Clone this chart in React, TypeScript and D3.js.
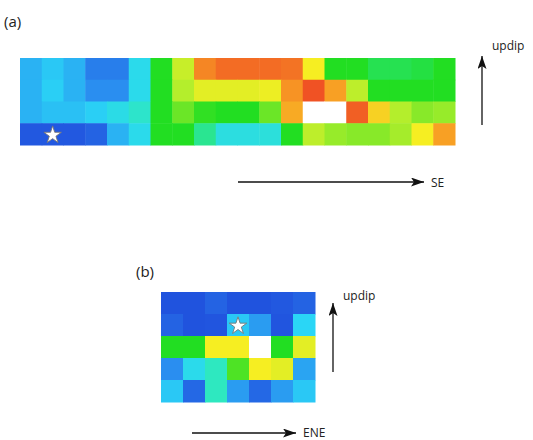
import { useEffect, useRef } from "react";
import * as d3 from "d3";

// slip values (0-1), rows listed top (updip) to bottom; 1 = peak shown white
const panelA: number[][] = [
  [0.3, 0.33, 0.3, 0.22, 0.22, 0.37, 0.55, 0.67, 0.84, 0.88, 0.88, 0.88, 0.87, 0.72, 0.55, 0.55, 0.52, 0.52, 0.53, 0.55],
  [0.3, 0.34, 0.3, 0.25, 0.25, 0.37, 0.55, 0.65, 0.7, 0.7, 0.7, 0.71, 0.82, 0.92, 0.8, 0.66, 0.55, 0.55, 0.55, 0.55],
  [0.3, 0.32, 0.32, 0.34, 0.38, 0.43, 0.55, 0.6, 0.56, 0.55, 0.55, 0.6, 0.79, 1, 1, 0.9, 0.75, 0.65, 0.62, 0.63],
  [0.15, 0.15, 0.15, 0.17, 0.3, 0.37, 0.55, 0.55, 0.48, 0.39, 0.39, 0.4, 0.55, 0.66, 0.63, 0.62, 0.62, 0.64, 0.72, 0.8],
];

const panelB: number[][] = [
  [0.12, 0.12, 0.17, 0.12, 0.12, 0.15, 0.17],
  [0.17, 0.12, 0.13, 0.33, 0.27, 0.13, 0.35],
  [0.55, 0.55, 0.72, 0.72, 1, 0.55, 0.7],
  [0.25, 0.37, 0.45, 0.58, 0.72, 0.7, 0.28],
  [0.33, 0.18, 0.45, 0.27, 0.18, 0.27, 0.33],
];

// hypocentre cell [row, col]
const starA = [3, 1];
const starB = [1, 3];

const colorStops = [0, 0.15, 0.25, 0.35, 0.45, 0.55, 0.65, 0.72, 0.8, 0.92];
const colorValues = ["#1a40d6", "#2258e0", "#2a8ef0", "#2ad6f6", "#2ee8c0", "#22de22", "#b4ee2c", "#f6ee22", "#f8a024", "#f05224"];

const App = () => {
  const ref = useRef<SVGSVGElement>(null);

  useEffect(() => {
    if (!ref.current) return;
    const svg = d3.select(ref.current);
    svg.selectAll("*").remove();

    const color = d3.scaleLinear<string>().domain(colorStops).range(colorValues).clamp(true);
    const fill = (v: number) => (v >= 1 ? "#ffffff" : color(v));

    svg
      .append("defs")
      .append("marker")
      .attr("id", "head")
      .attr("viewBox", "0 0 13 9")
      .attr("refX", 13)
      .attr("refY", 4.5)
      .attr("markerWidth", 13)
      .attr("markerHeight", 9)
      .attr("markerUnits", "userSpaceOnUse")
      .attr("orient", "auto")
      .append("path")
      .attr("d", "M0,0 L13,4.5 L0,9 L3,4.5 Z")
      .attr("fill", "#111");

    const drawPanel = (
      data: number[][],
      x0: number,
      x1: number,
      y0: number,
      y1: number,
      star: number[]
    ) => {
      const x = d3.scaleBand<number>().domain(d3.range(data[0].length)).range([x0, x1]);
      const y = d3.scaleBand<number>().domain(d3.range(data.length)).range([y0, y1]);
      const g = svg.append("g");
      data.forEach((row, r) => {
        g.selectAll(null)
          .data(row)
          .enter()
          .append("rect")
          .attr("x", (_d, c) => x(c)!)
          .attr("y", y(r)!)
          .attr("width", x.bandwidth() + 0.5)
          .attr("height", y.bandwidth() + 0.5)
          .attr("fill", (d) => fill(d));
      });
      g.append("path")
        .attr("d", d3.symbol(d3.symbolStar, 95)()!)
        .attr(
          "transform",
          `translate(${x(star[1])! + x.bandwidth() / 2}, ${y(star[0])! + y.bandwidth() / 2 + 1})`
        )
        .attr("fill", "#fff")
        .attr("stroke", "#777")
        .attr("stroke-width", 0.9);
    };

    drawPanel(panelA, 20, 455, 58, 145, starA);
    drawPanel(panelB, 161, 315, 292, 402, starB);

    const arrow = (xa: number, ya: number, xb: number, yb: number) =>
      svg
        .append("line")
        .attr("x1", xa)
        .attr("y1", ya)
        .attr("x2", xb)
        .attr("y2", yb)
        .attr("stroke", "#111")
        .attr("stroke-width", 1.3)
        .attr("marker-end", "url(#head)");

    arrow(482, 125, 482, 56);
    arrow(238, 182, 424, 182);
    arrow(333, 372, 333, 303);
    arrow(192, 433, 296, 433);

    const label = (t: string, tx: number, ty: number, size: number) =>
      svg
        .append("text")
        .attr("x", tx)
        .attr("y", ty)
        .attr("font-family", "'Open Sans', sans-serif")
        .attr("font-size", size)
        .attr("fill", "#222")
        .text(t);

    label("(a)", 4, 27, 15);
    label("updip", 492, 50, 12);
    label("SE", 431, 187, 12);
    label("(b)", 136, 277, 15);
    label("updip", 343, 300, 12);
    label("ENE", 303, 437, 12);
  }, []);

  return (
    <svg
      ref={ref}
      width={533}
      height={440}
      style={{ position: "absolute", left: 0, top: 0, background: "#fff" }}
    ></svg>
  );
};

export default App;
